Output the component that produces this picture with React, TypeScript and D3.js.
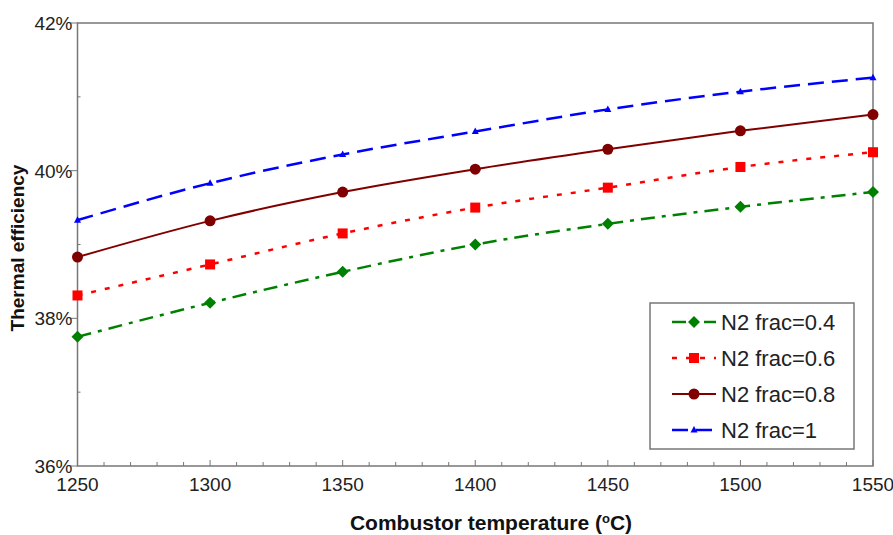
import { useEffect, useRef } from "react";
import * as d3 from "d3";

const temps = [1250, 1300, 1350, 1400, 1450, 1500, 1550];
const frac04 = [37.75, 38.21, 38.63, 39.0, 39.28, 39.51, 39.71];
const frac06 = [38.31, 38.73, 39.15, 39.5, 39.77, 40.05, 40.25];
const frac08 = [38.83, 39.32, 39.71, 40.02, 40.29, 40.54, 40.76];
const frac10 = [39.33, 39.83, 40.22, 40.53, 40.83, 41.07, 41.26];
const yTicks = [36, 38, 40, 42];
const xTicks = [1250, 1300, 1350, 1400, 1450, 1500, 1550];

const seriesList = [
  { name: "N2 frac=0.4", values: frac04, color: "#008000", dash: "14,7,4,7", marker: "diamond", width: 2.5 },
  { name: "N2 frac=0.6", values: frac06, color: "#ff0000", dash: "5,9", marker: "square", width: 2.5 },
  { name: "N2 frac=0.8", values: frac08, color: "#800000", dash: "", marker: "circle", width: 2 },
  { name: "N2 frac=1", values: frac10, color: "#0000ff", dash: "16,8", marker: "triangle", width: 2.5 },
];

const W = 893;
const H = 535;
const margin = { top: 23, right: 20, bottom: 69, left: 77.5 };

export default function App() {
  const ref = useRef<SVGSVGElement>(null);

  useEffect(() => {
    const svg = d3.select(ref.current).html("");
    const font = "Arial, 'Liberation Sans', sans-serif";

    const x = d3.scaleLinear().domain([1250, 1550]).range([margin.left, W - margin.right]);
    const y = d3.scaleLinear().domain([36, 42]).range([H - margin.bottom, margin.top]);
    const axisColor = "#777";

    // frame
    svg.append("rect")
      .attr("x", x(1250)).attr("y", y(42))
      .attr("width", x(1550) - x(1250)).attr("height", y(36) - y(42))
      .attr("fill", "none").attr("stroke", axisColor).attr("stroke-width", 1.5);

    // x minor ticks (inward)
    svg.append("g").selectAll("line")
      .data(d3.range(1260, 1550, 10).filter(d => d % 50 !== 0))
      .enter().append("line")
      .attr("x1", d => x(d)).attr("x2", d => x(d))
      .attr("y1", y(36)).attr("y2", y(36) - 4)
      .attr("stroke", axisColor).attr("stroke-width", 1);

    // x major ticks
    svg.append("g").selectAll("line")
      .data(xTicks)
      .enter().append("line")
      .attr("x1", d => x(d)).attr("x2", d => x(d))
      .attr("y1", y(36)).attr("y2", y(36) - 6)
      .attr("stroke", axisColor).attr("stroke-width", 1);

    svg.append("g").selectAll("text")
      .data(xTicks)
      .enter().append("text")
      .attr("x", d => x(d)).attr("y", y(36) + 25)
      .attr("text-anchor", "middle")
      .attr("font-family", font).attr("font-size", "19px").attr("fill", "#222")
      .text(d => d);

    // y ticks
    svg.append("g").selectAll("line")
      .data(yTicks)
      .enter().append("line")
      .attr("x1", x(1250) - 7).attr("x2", x(1250))
      .attr("y1", d => y(d)).attr("y2", d => y(d))
      .attr("stroke", axisColor).attr("stroke-width", 1);

    svg.append("g").selectAll("line")
      .data([37, 39, 41])
      .enter().append("line")
      .attr("x1", x(1250)).attr("x2", x(1250) + 3)
      .attr("y1", d => y(d)).attr("y2", d => y(d))
      .attr("stroke", axisColor).attr("stroke-width", 1);

    svg.append("g").selectAll("text")
      .data(yTicks)
      .enter().append("text")
      .attr("x", x(1250) - 5).attr("y", d => y(d) + 7)
      .attr("text-anchor", "end")
      .attr("font-family", font).attr("font-size", "19px").attr("fill", "#222")
      .text(d => `${d}%`);

    // axis titles
    svg.append("text")
      .attr("x", 491).attr("y", 530)
      .attr("text-anchor", "middle")
      .attr("font-family", font).attr("font-size", "21px").attr("font-weight", "bold")
      .attr("fill", "#111")
      .html("Combustor temperature (<tspan baseline-shift='super' font-size='13px'>o</tspan>C)");

    svg.append("text")
      .attr("transform", "rotate(-90)")
      .attr("x", -248).attr("y", 24)
      .attr("text-anchor", "middle")
      .attr("font-family", font).attr("font-size", "19px").attr("font-weight", "bold")
      .attr("fill", "#111")
      .text("Thermal efficiency");

    const line = d3.line<number>()
      .x((_, i) => x(temps[i]))
      .y(d => y(d))
      .curve(d3.curveMonotoneX);

    const drawMarker = (g: any, kind: string, cx: number, cy: number, color: string) => {
      if (kind === "diamond") {
        g.append("path")
          .attr("d", `M${cx},${cy - 6}L${cx + 6},${cy}L${cx},${cy + 6}L${cx - 6},${cy}Z`)
          .attr("fill", color);
      } else if (kind === "square") {
        g.append("rect")
          .attr("x", cx - 5).attr("y", cy - 5).attr("width", 10).attr("height", 10)
          .attr("fill", color);
      } else if (kind === "circle") {
        g.append("circle").attr("cx", cx).attr("cy", cy).attr("r", 5.5).attr("fill", color);
      } else {
        g.append("path")
          .attr("d", `M${cx},${cy - 4}L${cx + 3.5},${cy + 2.5}L${cx - 3.5},${cy + 2.5}Z`)
          .attr("fill", color);
      }
    };

    seriesList.forEach(s => {
      const g = svg.append("g");
      g.append("path")
        .datum(s.values)
        .attr("d", line)
        .attr("fill", "none")
        .attr("stroke", s.color)
        .attr("stroke-width", s.width)
        .attr("stroke-dasharray", s.dash || null);
      s.values.forEach((v, i) => drawMarker(g, s.marker, x(temps[i]), y(v), s.color));
    });

    // legend
    const lg = svg.append("g").attr("transform", "translate(650,303)");
    lg.append("rect")
      .attr("width", 204).attr("height", 146)
      .attr("fill", "#fff").attr("stroke", axisColor).attr("stroke-width", 1.5);
    seriesList.forEach((s, i) => {
      const cy = 19 + i * 36;
      const row = lg.append("g");
      row.append("line")
        .attr("x1", 22).attr("x2", 66).attr("y1", cy).attr("y2", cy)
        .attr("stroke", s.color).attr("stroke-width", s.width)
        .attr("stroke-dasharray", s.dash || null);
      drawMarker(row, s.marker, 44, cy, s.color);
      row.append("text")
        .attr("x", 71).attr("y", cy + 8)
        .attr("font-family", font).attr("font-size", "22px").attr("fill", "#222")
        .text(s.name);
    });
  }, []);

  return (
    <svg ref={ref} width={W} height={H}
      style={{ position: "absolute", left: 0, top: 0, display: "block", background: "#fff" }} />
  );
}
